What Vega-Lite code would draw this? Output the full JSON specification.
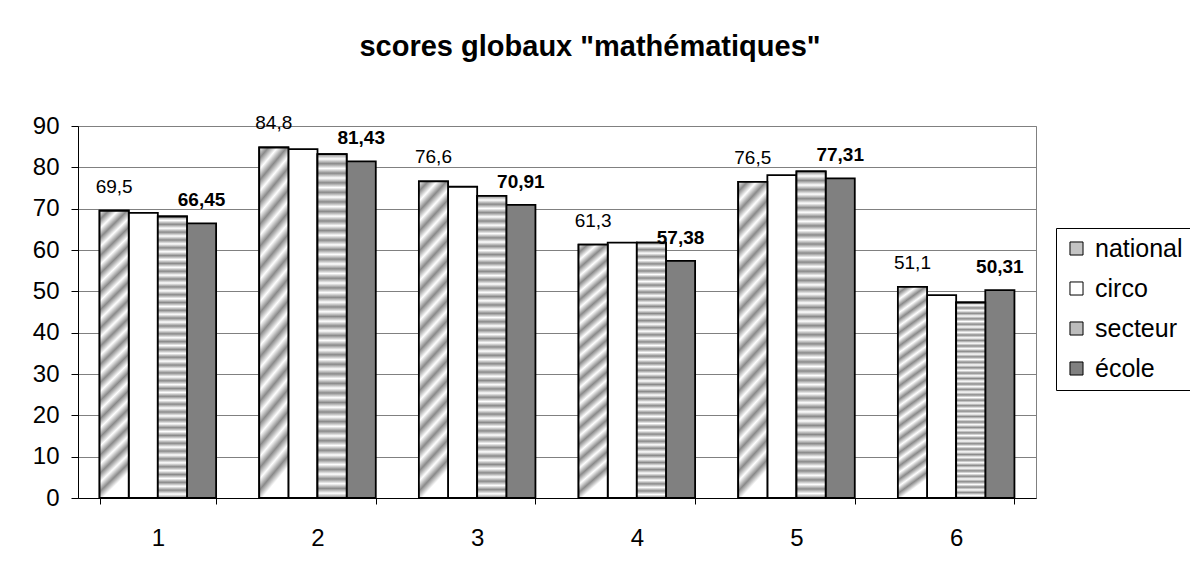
{
  "$schema": "https://vega.github.io/schema/vega-lite/v6.json",
  "width": 958,
  "height": 372,
  "autosize": "none",
  "padding": {"left": 78, "top": 126, "right": 154, "bottom": 78},
  "background": "white",
  "title": {
    "text": "scores globaux \"mathématiques\"",
    "fontSize": 29,
    "fontWeight": "bold",
    "color": "black",
    "anchor": "middle",
    "dx": 33,
    "offset": 52
  },
  "data": {
    "values": [
      {"groupe": 1, "serie": "national", "score": 69.5},
      {"groupe": 1, "serie": "circo", "score": 69.0},
      {"groupe": 1, "serie": "secteur", "score": 68.1},
      {"groupe": 1, "serie": "école", "score": 66.45},
      {"groupe": 2, "serie": "national", "score": 84.8},
      {"groupe": 2, "serie": "circo", "score": 84.4},
      {"groupe": 2, "serie": "secteur", "score": 83.2},
      {"groupe": 2, "serie": "école", "score": 81.43},
      {"groupe": 3, "serie": "national", "score": 76.6},
      {"groupe": 3, "serie": "circo", "score": 75.3},
      {"groupe": 3, "serie": "secteur", "score": 73.1},
      {"groupe": 3, "serie": "école", "score": 70.91},
      {"groupe": 4, "serie": "national", "score": 61.3},
      {"groupe": 4, "serie": "circo", "score": 61.8},
      {"groupe": 4, "serie": "secteur", "score": 61.8},
      {"groupe": 4, "serie": "école", "score": 57.38},
      {"groupe": 5, "serie": "national", "score": 76.5},
      {"groupe": 5, "serie": "circo", "score": 78.1},
      {"groupe": 5, "serie": "secteur", "score": 79.0},
      {"groupe": 5, "serie": "école", "score": 77.31},
      {"groupe": 6, "serie": "national", "score": 51.1},
      {"groupe": 6, "serie": "circo", "score": 49.1},
      {"groupe": 6, "serie": "secteur", "score": 47.3},
      {"groupe": 6, "serie": "école", "score": 50.31}
    ]
  },
  "encoding": {
    "x": {
      "field": "groupe",
      "type": "ordinal",
      "scale": {"paddingInner": 0.27, "paddingOuter": 0.135},
      "axis": {
        "title": null,
        "labelAngle": 0,
        "tickBand": "extent",
        "grid": false,
        "domainColor": "black",
        "tickColor": "black",
        "tickSize": 6,
        "labelFontSize": 24,
        "labelPadding": 22,
        "labelColor": "black"
      }
    },
    "xOffset": {
      "field": "serie",
      "type": "nominal",
      "scale": {"domain": ["national", "circo", "secteur", "école"], "paddingInner": 0, "paddingOuter": 0}
    },
    "y": {
      "field": "score",
      "type": "quantitative",
      "scale": {"domain": [0, 90], "nice": false},
      "axis": {
        "title": null,
        "values": [0, 10, 20, 30, 40, 50, 60, 70, 80, 90],
        "grid": true,
        "gridColor": "#808080",
        "gridWidth": 1,
        "domainColor": "black",
        "tickColor": "black",
        "tickSize": 7,
        "labelFontSize": 24,
        "labelPadding": 12,
        "labelColor": "black"
      }
    }
  },
  "layer": [
    {
      "mark": {"type": "bar", "stroke": "black", "strokeWidth": 1.8},
      "encoding": {
        "color": {
          "field": "serie",
          "type": "nominal",
          "scale": {
            "domain": ["national", "circo", "secteur", "école"],
            "range": ["#c4c4c4", "#ffffff", "#bcbcbc", "#808080"]
          },
          "legend": {
            "orient": "none",
            "legendX": 978,
            "legendY": 102,
            "title": null,
            "strokeColor": "black",
            "fillColor": "white",
            "padding": 8,
            "symbolType": "square",
            "symbolSize": 170,
            "symbolStrokeColor": "black",
            "symbolStrokeWidth": 1,
            "symbolOpacity": 1,
            "labelFontSize": 25,
            "labelColor": "black",
            "labelOffset": 6,
            "rowPadding": 14
          }
        }
      }
    },
    {
      "transform": [{"filter": "datum.serie === 'national'"}],
      "mark": {
        "type": "bar",
        "stroke": "black",
        "strokeWidth": 1.8,
        "fill": {
          "gradient": "linear",
          "x1": 0, "y1": 0, "x2": 0.1, "y2": 1,
          "stops": [
            {"offset": 0, "color": "#ffffff"},
            {"offset": 0.03125, "color": "#8a8a8a"},
            {"offset": 0.0625, "color": "#ffffff"},
            {"offset": 0.09375, "color": "#8a8a8a"},
            {"offset": 0.125, "color": "#ffffff"},
            {"offset": 0.15625, "color": "#8a8a8a"},
            {"offset": 0.1875, "color": "#ffffff"},
            {"offset": 0.21875, "color": "#8a8a8a"},
            {"offset": 0.25, "color": "#ffffff"},
            {"offset": 0.28125, "color": "#8a8a8a"},
            {"offset": 0.3125, "color": "#ffffff"},
            {"offset": 0.34375, "color": "#8a8a8a"},
            {"offset": 0.375, "color": "#ffffff"},
            {"offset": 0.40625, "color": "#8a8a8a"},
            {"offset": 0.4375, "color": "#ffffff"},
            {"offset": 0.46875, "color": "#8a8a8a"},
            {"offset": 0.5, "color": "#ffffff"},
            {"offset": 0.53125, "color": "#8a8a8a"},
            {"offset": 0.5625, "color": "#ffffff"},
            {"offset": 0.59375, "color": "#8a8a8a"},
            {"offset": 0.625, "color": "#ffffff"},
            {"offset": 0.65625, "color": "#8a8a8a"},
            {"offset": 0.6875, "color": "#ffffff"},
            {"offset": 0.71875, "color": "#8a8a8a"},
            {"offset": 0.75, "color": "#ffffff"},
            {"offset": 0.78125, "color": "#8a8a8a"},
            {"offset": 0.8125, "color": "#ffffff"},
            {"offset": 0.84375, "color": "#8a8a8a"},
            {"offset": 0.875, "color": "#ffffff"},
            {"offset": 0.90625, "color": "#8a8a8a"},
            {"offset": 0.9375, "color": "#ffffff"},
            {"offset": 0.96875, "color": "#8a8a8a"},
            {"offset": 1, "color": "#ffffff"}
          ]
        }
      }
    },
    {
      "transform": [{"filter": "datum.serie === 'secteur'"}],
      "mark": {
        "type": "bar",
        "stroke": "black",
        "strokeWidth": 1.8,
        "fill": {
          "gradient": "linear",
          "x1": 0, "y1": 0, "x2": 0, "y2": 1,
          "stops": [
            {"offset": 0, "color": "#8a8a8a"},
            {"offset": 0.0139, "color": "#ffffff"},
            {"offset": 0.0278, "color": "#8a8a8a"},
            {"offset": 0.0417, "color": "#ffffff"},
            {"offset": 0.0556, "color": "#8a8a8a"},
            {"offset": 0.0694, "color": "#ffffff"},
            {"offset": 0.0833, "color": "#8a8a8a"},
            {"offset": 0.0972, "color": "#ffffff"},
            {"offset": 0.1111, "color": "#8a8a8a"},
            {"offset": 0.125, "color": "#ffffff"},
            {"offset": 0.1389, "color": "#8a8a8a"},
            {"offset": 0.1528, "color": "#ffffff"},
            {"offset": 0.1667, "color": "#8a8a8a"},
            {"offset": 0.1806, "color": "#ffffff"},
            {"offset": 0.1944, "color": "#8a8a8a"},
            {"offset": 0.2083, "color": "#ffffff"},
            {"offset": 0.2222, "color": "#8a8a8a"},
            {"offset": 0.2361, "color": "#ffffff"},
            {"offset": 0.25, "color": "#8a8a8a"},
            {"offset": 0.2639, "color": "#ffffff"},
            {"offset": 0.2778, "color": "#8a8a8a"},
            {"offset": 0.2917, "color": "#ffffff"},
            {"offset": 0.3056, "color": "#8a8a8a"},
            {"offset": 0.3194, "color": "#ffffff"},
            {"offset": 0.3333, "color": "#8a8a8a"},
            {"offset": 0.3472, "color": "#ffffff"},
            {"offset": 0.3611, "color": "#8a8a8a"},
            {"offset": 0.375, "color": "#ffffff"},
            {"offset": 0.3889, "color": "#8a8a8a"},
            {"offset": 0.4028, "color": "#ffffff"},
            {"offset": 0.4167, "color": "#8a8a8a"},
            {"offset": 0.4306, "color": "#ffffff"},
            {"offset": 0.4444, "color": "#8a8a8a"},
            {"offset": 0.4583, "color": "#ffffff"},
            {"offset": 0.4722, "color": "#8a8a8a"},
            {"offset": 0.4861, "color": "#ffffff"},
            {"offset": 0.5, "color": "#8a8a8a"},
            {"offset": 0.5139, "color": "#ffffff"},
            {"offset": 0.5278, "color": "#8a8a8a"},
            {"offset": 0.5417, "color": "#ffffff"},
            {"offset": 0.5556, "color": "#8a8a8a"},
            {"offset": 0.5694, "color": "#ffffff"},
            {"offset": 0.5833, "color": "#8a8a8a"},
            {"offset": 0.5972, "color": "#ffffff"},
            {"offset": 0.6111, "color": "#8a8a8a"},
            {"offset": 0.625, "color": "#ffffff"},
            {"offset": 0.6389, "color": "#8a8a8a"},
            {"offset": 0.6528, "color": "#ffffff"},
            {"offset": 0.6667, "color": "#8a8a8a"},
            {"offset": 0.6806, "color": "#ffffff"},
            {"offset": 0.6944, "color": "#8a8a8a"},
            {"offset": 0.7083, "color": "#ffffff"},
            {"offset": 0.7222, "color": "#8a8a8a"},
            {"offset": 0.7361, "color": "#ffffff"},
            {"offset": 0.75, "color": "#8a8a8a"},
            {"offset": 0.7639, "color": "#ffffff"},
            {"offset": 0.7778, "color": "#8a8a8a"},
            {"offset": 0.7917, "color": "#ffffff"},
            {"offset": 0.8056, "color": "#8a8a8a"},
            {"offset": 0.8194, "color": "#ffffff"},
            {"offset": 0.8333, "color": "#8a8a8a"},
            {"offset": 0.8472, "color": "#ffffff"},
            {"offset": 0.8611, "color": "#8a8a8a"},
            {"offset": 0.875, "color": "#ffffff"},
            {"offset": 0.8889, "color": "#8a8a8a"},
            {"offset": 0.9028, "color": "#ffffff"},
            {"offset": 0.9167, "color": "#8a8a8a"},
            {"offset": 0.9306, "color": "#ffffff"},
            {"offset": 0.9444, "color": "#8a8a8a"},
            {"offset": 0.9583, "color": "#ffffff"},
            {"offset": 0.9722, "color": "#8a8a8a"},
            {"offset": 0.9861, "color": "#ffffff"},
            {"offset": 1, "color": "#8a8a8a"}
          ]
        }
      }
    },
    {
      "transform": [{"filter": "datum.serie === 'national'"}],
      "mark": {"type": "text", "baseline": "alphabetic", "align": "center", "dy": -18, "fontSize": 19, "color": "black"},
      "encoding": {"text": {"field": "score", "type": "quantitative", "format": ".1f"}}
    },
    {
      "transform": [{"filter": "datum.serie === 'école'"}],
      "mark": {"type": "text", "baseline": "alphabetic", "align": "center", "dy": -17, "fontSize": 19, "fontWeight": "bold", "color": "black"},
      "encoding": {"text": {"field": "score", "type": "quantitative", "format": ".2f"}}
    }
  ],
  "config": {
    "font": "Liberation Sans",
    "locale": {
      "number": {"decimal": ",", "thousands": " ", "grouping": [3], "currency": ["", " €"]}
    },
    "view": {"stroke": "#808080", "strokeWidth": 1}
  }
}
